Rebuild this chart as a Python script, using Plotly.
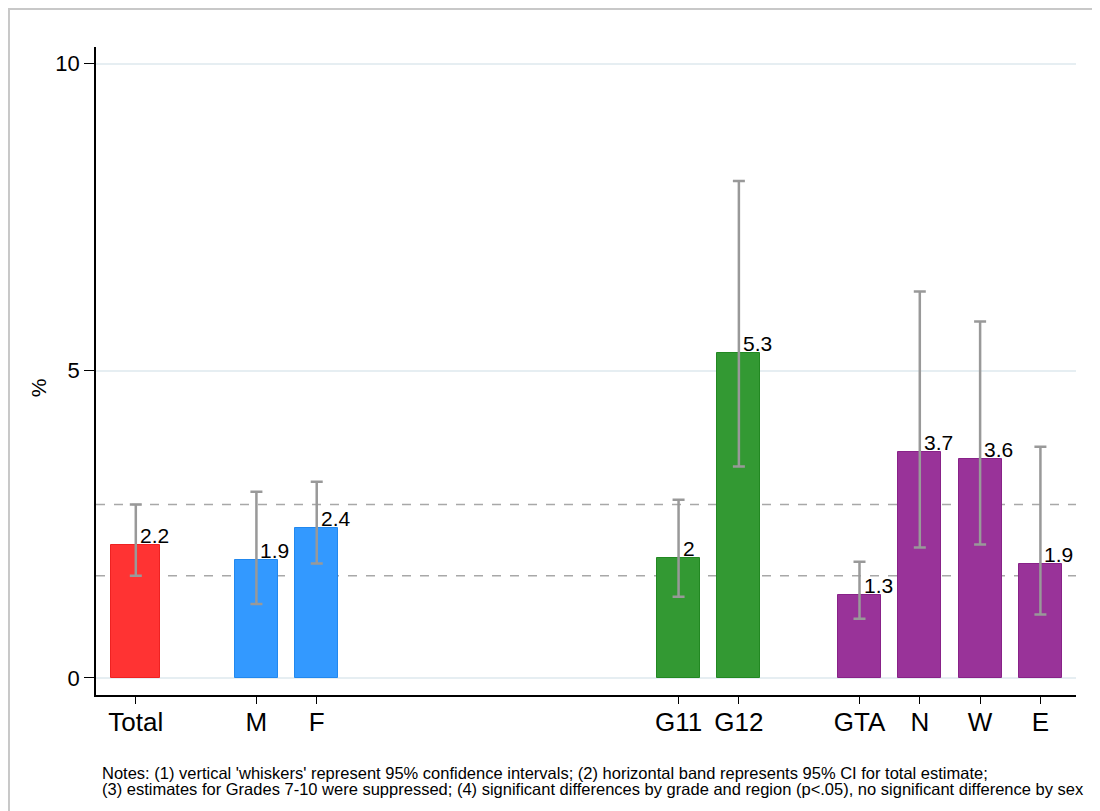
import plotly.graph_objects as go

categories = ["Total", "M", "F", "G11", "G12", "GTA", "N", "W", "E"]
slots = [0, 2, 3, 9, 10, 12, 13, 14, 15]
values = [2.17, 1.91, 2.44, 1.95, 5.29, 1.35, 3.68, 3.57, 1.86]
labels = ["2.2", "1.9", "2.4", "2", "5.3", "1.3", "3.7", "3.6", "1.9"]
ci_low = [1.66, 1.20, 1.86, 1.32, 3.44, 0.96, 2.12, 2.17, 1.03]
ci_high = [2.82, 3.03, 3.19, 2.90, 8.09, 1.89, 6.29, 5.80, 3.76]
colors = ["#ff3333", "#3399ff", "#3399ff", "#339933", "#339933",
          "#993399", "#993399", "#993399", "#993399"]
edges = ["#ee2222", "#2288ee", "#2288ee", "#228822", "#228822",
         "#882288", "#882288", "#882288", "#882288"]
widths = [0.81, 0.71, 0.71, 0.71, 0.71, 0.71, 0.71, 0.71, 0.71]
total_band = [1.66, 2.82]
notes = ["Notes: (1) vertical 'whiskers' represent 95% confidence intervals; (2) horizontal band represents 95% CI for total estimate;",
         "(3) estimates for Grades 7-10 were suppressed; (4) significant differences by grade and region (p<.05), no significant difference by sex"]

fig = go.Figure()
fig.add_trace(go.Bar(
    x=slots, y=values, width=widths,
    marker=dict(color=colors, line=dict(color=edges, width=1)),
    error_y=dict(type="data", symmetric=False,
                 array=[h - v for h, v in zip(ci_high, values)],
                 arrayminus=[v - l for l, v in zip(ci_low, values)],
                 color="#999999", thickness=2.5, width=6),
    showlegend=False, hoverinfo="skip",
))

for xs, v, lab in zip(slots, values, labels):
    fig.add_annotation(x=xs, y=v, text=lab, showarrow=False,
                       xanchor="left", yanchor="bottom", xshift=2, yshift=-4,
                       font=dict(family="Liberation Sans, Arial", size=21, color="#000"))

for yv in total_band:
    fig.add_shape(type="line", xref="paper", x0=0, x1=1, yref="y", y0=yv, y1=yv,
                  line=dict(color="#a8a8a8", width=1.5, dash="dash"), layer="below")

# outer frame of the graph region
fig.add_shape(type="rect", xref="paper", yref="paper",
              x0=-0.0888, x1=1.5, y0=-0.6, y1=1.0586,
              line=dict(color="#c8c8c8", width=2), layer="below")

fig.add_annotation(xref="paper", yref="paper", x=-0.0592, y=0.475, text="%",
                   textangle=-90, showarrow=False, xanchor="center", yanchor="middle",
                   font=dict(family="Liberation Sans, Arial", size=21, color="#000"))

for i, line in enumerate(notes):
    fig.add_annotation(xref="paper", yref="paper", x=0.004, y=-0.104 - i * 0.0247,
                       text=line, showarrow=False, xanchor="left", yanchor="top",
                       align="left",
                       font=dict(family="Liberation Sans, Arial", size=16.5, color="#000"))

fig.update_layout(
    width=1092, height=803,
    margin=dict(l=88, r=24, t=39, b=116),
    plot_bgcolor="white", paper_bgcolor="white",
    bargap=0,
)
fig.update_xaxes(
    range=[-0.66, 15.59], tickmode="array", tickvals=slots, ticktext=categories,
    showline=True, linecolor="#000", linewidth=1.5,
    ticks="outside", ticklen=7, tickcolor="#000", tickwidth=1.2,
    ticklabelstandoff=-4,
    showgrid=False, zeroline=False,
    tickfont=dict(family="Liberation Sans, Arial", size=26, color="#000"),
)
fig.update_yaxes(
    range=[-0.28, 10.27], tickmode="array", tickvals=[0, 5, 10],
    showline=True, linecolor="#000", linewidth=1.5,
    ticks="outside", ticklen=10, tickcolor="#000", tickwidth=1.2,
    showgrid=True, gridcolor="#e6eef2", gridwidth=2, zeroline=False,
    tickfont=dict(family="Liberation Sans, Arial", size=22, color="#000"),
)

fig.write_html("out.html")
